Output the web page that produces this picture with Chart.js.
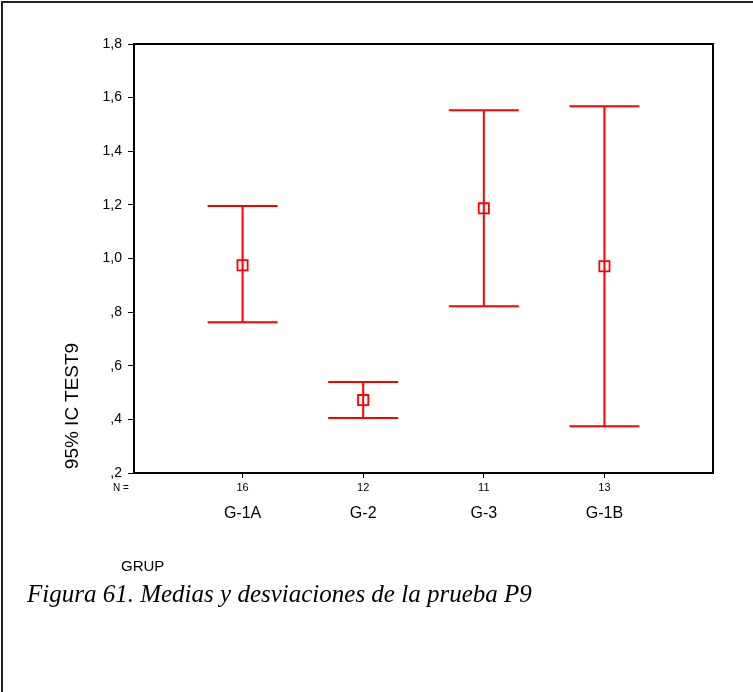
<!DOCTYPE html>
<html>
<head>
<meta charset="utf-8">
<title>Medias y desviaciones P9</title>
<script src="https://cdn.jsdelivr.net/npm/chart.js@4.4.1/dist/chart.umd.min.js"></script>
<style>
  body { margin: 0; background: #fff; }
  #marco { position: relative; width: 753px; height: 692px; overflow: hidden; }
  #borde { position: absolute; left: 1px; top: 1px; width: 900px; height: 900px;
           border-left: 2px solid #222; border-top: 2px solid #222; }
  canvas { position: absolute; left: 0; top: 0; }
  .txt { position: absolute; font-family: "Liberation Sans", Arial, sans-serif; color: #000; white-space: nowrap; }
  #tituloY { left: 72px; top: 406px; font-size: 19px; transform: translate(-50%, -50%) rotate(-90deg); }
  #nIgual { left: 113px; top: 482px; font-size: 10px; }
  #grup { left: 121px; top: 557px; font-size: 15px; }
  #pie { position: absolute; left: 27px; top: 580px; font-family: "Liberation Serif", "Times New Roman", serif;
         font-style: italic; font-size: 25px; white-space: nowrap; }
</style>
</head>
<body>
<div id="marco">
  <div id="borde"></div>
  <canvas id="grafica" width="753" height="692"></canvas>
  <div class="txt" id="tituloY">95% IC TEST9</div>
  <div class="txt" id="nIgual">N =</div>
  <div class="txt" id="grup">GRUP</div>
  <div id="pie">Figura 61. Medias y desviaciones de la prueba P9</div>
</div>
<script>
const grupos = ['G-1A', 'G-2', 'G-3', 'G-1B'];
const nCasos = [16, 12, 11, 13];
const medias = [0.975, 0.472, 1.187, 0.971];
const limInf = [0.762, 0.405, 0.822, 0.374];
const limSup = [1.196, 0.539, 1.553, 1.568];
const ticksY = [0.2, 0.4, 0.6, 0.8, 1.0, 1.2, 1.4, 1.6, 1.8];

const ROJO = '#ff0000';
const ANCHO_CAPA = 0.29;

// segmentos de los intervalos (barra vertical + dos topes), separados por huecos
const segmentos = [];
grupos.forEach((g, i) => {
  const x = i + 1;
  segmentos.push({ x: x, y: limInf[i] }, { x: x, y: limSup[i] }, { x: x, y: null });
  segmentos.push({ x: x - ANCHO_CAPA, y: limSup[i] }, { x: x + ANCHO_CAPA, y: limSup[i] }, { x: x, y: null });
  segmentos.push({ x: x - ANCHO_CAPA, y: limInf[i] }, { x: x + ANCHO_CAPA, y: limInf[i] }, { x: x, y: null });
});

const puntosMedias = medias.map((m, i) => ({ x: i + 1, y: m }));

function formatoY(v) {
  let s = v.toFixed(1).replace('.', ',');
  if (s.startsWith('0')) s = s.slice(1);
  return s;
}

const marcoArea = {
  id: 'marcoArea',
  afterDraw(chart) {
    const { ctx, chartArea: a } = chart;
    ctx.save();
    ctx.strokeStyle = '#000';
    ctx.lineWidth = 2;
    ctx.strokeRect(a.left, a.top, a.right - a.left, a.bottom - a.top);
    ctx.restore();
  }
};

const ctx = document.getElementById('grafica').getContext('2d');
new Chart(ctx, {
  type: 'scatter',
  data: {
    datasets: [
      {
        label: 'IC 95%',
        data: segmentos,
        showLine: true,
        spanGaps: false,
        borderColor: ROJO,
        borderWidth: 2,
        pointRadius: 0,
        order: 2
      },
      {
        label: 'Media',
        data: puntosMedias,
        pointStyle: 'rect',
        pointRadius: 7.2,
        borderColor: ROJO,
        backgroundColor: 'rgba(0,0,0,0)',
        borderWidth: 1.8,
        order: 1
      }
    ]
  },
  options: {
    responsive: false,
    animation: false,
    events: [],
    layout: { padding: { top: 44, right: 40, left: 0, bottom: 0 } },
    plugins: {
      legend: { display: false },
      tooltip: { enabled: false }
    },
    scales: {
      y: {
        type: 'linear',
        min: 0.2,
        max: 1.8,
        afterBuildTicks: s => { s.ticks = ticksY.map(v => ({ value: v })); },
        afterFit: s => { s.width = 134; },
        border: { color: '#000', width: 2 },
        grid: { drawOnChartArea: false, color: '#000', tickLength: 6, lineWidth: 1 },
        ticks: {
          callback: v => formatoY(v),
          color: '#000',
          padding: 6,
          font: { family: 'Liberation Sans, Arial, sans-serif', size: 14 }
        }
      },
      x: {
        type: 'linear',
        position: 'bottom',
        min: 0.1,
        max: 4.9,
        afterBuildTicks: s => { s.ticks = nCasos.map((n, i) => ({ value: i + 1 })); },
        afterFit: s => { s.height = 28; },
        border: { color: '#000', width: 2 },
        grid: { drawOnChartArea: false, color: '#000', tickLength: 5, lineWidth: 1 },
        ticks: {
          callback: v => nCasos[v - 1],
          color: '#000',
          padding: 3,
          maxRotation: 0,
          font: { family: 'Liberation Sans, Arial, sans-serif', size: 11 }
        }
      },
      x2: {
        type: 'linear',
        position: 'bottom',
        min: 0.1,
        max: 4.9,
        afterBuildTicks: s => { s.ticks = grupos.map((g, i) => ({ value: i + 1 })); },
        afterFit: s => { s.height = 692 - 473 - 28; },
        border: { display: false },
        grid: { display: false, drawTicks: false },
        ticks: {
          callback: v => grupos[v - 1],
          color: '#000',
          padding: 3,
          maxRotation: 0,
          font: { family: 'Liberation Sans, Arial, sans-serif', size: 16 }
        }
      }
    }
  },
  plugins: [marcoArea]
});
</script>
</body>
</html>
